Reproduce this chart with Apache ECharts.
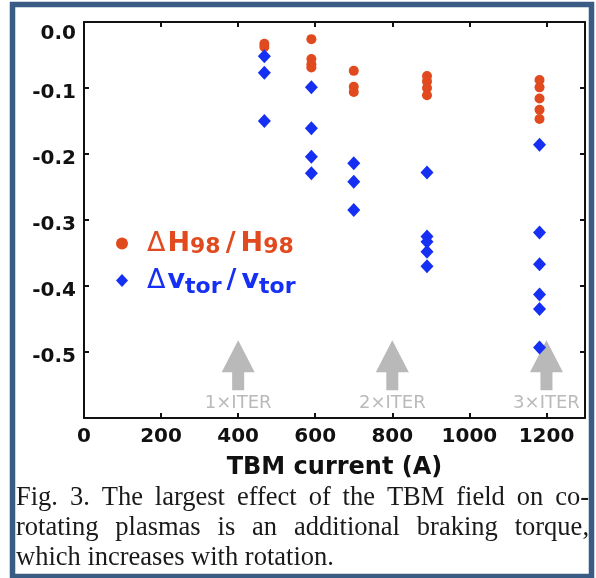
<!DOCTYPE html>
<html><head><meta charset="utf-8">
<script src="https://cdn.jsdelivr.net/npm/echarts@6/dist/echarts.min.js"></script>
<style>html,body{margin:0;padding:0;background:#fff}#c{width:596px;height:578px}</style>
</head><body><div id="c"></div><script>
// ---- data ----
const hCurrent = [468,468, 590,590,590,590, 700,700,700, 890,890,890,890, 1182,1182,1182,1182,1182];
const hValue   = [-0.033,-0.038, -0.026,-0.056,-0.064,-0.069, -0.074,-0.098,-0.106, -0.082,-0.090,-0.100,-0.111, -0.088,-0.099,-0.116,-0.133,-0.147];
const vCurrent = [468,468,468, 590,590,590,590, 700,700,700, 890,890,890,890,890, 1182,1182,1182,1182,1182,1182];
const vValue   = [-0.052,-0.077,-0.150, -0.099,-0.161,-0.204,-0.229, -0.214,-0.242,-0.285, -0.228,-0.325,-0.333,-0.348,-0.370, -0.186,-0.319,-0.367,-0.413,-0.435,-0.493];
const iterCurrent = [400, 800, 1200];
const iterLabel = ['1×ITER', '2×ITER', '3×ITER'];
const seriesNames = ['ΔH98/H98', 'Δvtor/vtor'];
const xTickValues = [0, 200, 400, 600, 800, 1000, 1200];
const yTickValues = [0.0, -0.1, -0.2, -0.3, -0.4, -0.5];
const xTitle = 'TBM current (A)';
const captionLines = [
  'Fig. 3. The largest effect of the TBM field on co-',
  'rotating plasmas is an additional braking torque,',
  'which increases with rotation.'
];

// ---- styling ----
const RED = '#e04a1e', BLUE = '#1530f2', GREY = '#b9b9b9';
const AX_FONT = 'DejaVu Sans';
const ARROW_Y = -0.52;
const arrowPath = 'path://M16.5,0 L33,32 L22.5,32 L22.5,50 L10.5,50 L10.5,32 L0,32 Z';

const chart = echarts.init(document.getElementById('c'), null, {renderer: 'canvas'});

// caption words, justified
const capFont = '26.5px "Liberation Serif"';
const cv = document.createElement('canvas').getContext('2d');
cv.font = capFont;
const capLeft = 16, capRight = 589, capY0 = 498, capDy = 30;
const capEls = [];
captionLines.forEach((line, li) => {
  const words = line.split(' ');
  const widths = words.map(w => cv.measureText(w).width);
  const total = widths.reduce((a, b) => a + b, 0);
  const justify = li < captionLines.length - 1;
  const gap = justify ? (capRight - capLeft - total) / (words.length - 1) : cv.measureText(' ').width;
  let x = capLeft;
  words.forEach((w, wi) => {
    capEls.push({
      type: 'text', x: x, y: capY0 + li * capDy, z: 10,
      style: {text: w, font: capFont, fill: '#1a1a1a', align: 'left', verticalAlign: 'middle'}
    });
    x += widths[wi] + gap;
  });
});

const richBase = (color, subPad) => ({
  d: {fontFamily: AX_FONT, fontSize: 27, fontWeight: 'normal', color: color, padding: [0, 2, 0, 14], lineHeight: 32},
  m: {fontFamily: AX_FONT, fontSize: 27, fontWeight: 'bold', color: color, lineHeight: 32},
  k: {fontFamily: AX_FONT, fontSize: 27, fontWeight: 'bold', color: color, lineHeight: 32, padding: [0, 5, 0, 5]},
  s: {fontFamily: AX_FONT, fontSize: 22, fontWeight: 'bold', color: color, padding: [subPad, 0, 0, 0]}
});
const rr = richBase(RED, 7), rb = richBase(BLUE, 13);

const yLabRich = {
  t: {fontFamily: AX_FONT, fontSize: 20, fontWeight: 'bold', color: '#111', padding: [24, 0, 0, 0]},
  n: {fontFamily: AX_FONT, fontSize: 20, fontWeight: 'bold', color: '#111', padding: [10, 0, 0, 0]}
};

const option = {
  backgroundColor: '#fff',
  animation: false,
  grid: {left: 84, right: 11, top: 22, bottom: 160, containLabel: false},
  xAxis: [{
    type: 'value', min: 0, max: 1300, interval: 200, position: 'bottom',
    name: xTitle, nameLocation: 'middle', nameGap: 38,
    nameTextStyle: {fontFamily: AX_FONT, fontSize: 24, fontWeight: 'bold', color: '#111'},
    axisLine: {show: true, onZero: false, lineStyle: {color: '#111', width: 2}},
    axisTick: {show: true, inside: true, length: 5, lineStyle: {color: '#111', width: 2}},
    axisLabel: {show: true, showMaxLabel: false, margin: 9, fontFamily: AX_FONT, fontSize: 20, fontWeight: 'bold', color: '#111',
      formatter: v => xTickValues.indexOf(v) >= 0 ? String(v) : ''},
    splitLine: {show: false}
  }, {
    type: 'value', min: 0, max: 1300, interval: 200, position: 'top',
    axisLine: {show: true, onZero: false, lineStyle: {color: '#111', width: 2}},
    axisTick: {show: true, inside: true, length: 5, lineStyle: {color: '#111', width: 2}},
    axisLabel: {show: false}, splitLine: {show: false}
  }],
  yAxis: [{
    type: 'value', min: -0.6, max: 0, interval: 0.1, position: 'left',
    axisLine: {show: true, onZero: false, lineStyle: {color: '#111', width: 2}},
    axisTick: {show: true, inside: true, length: 5, lineStyle: {color: '#111', width: 2}},
    axisLabel: {show: true, showMinLabel: false, margin: 8, fontFamily: AX_FONT, fontSize: 20, fontWeight: 'bold', color: '#111',
      rich: yLabRich,
      formatter: v => {
        const r = Math.round(v * 10) / 10;
        if (!yTickValues.some(t => Math.abs(t - r) < 1e-9)) return '';
        return r === 0 ? '{t|0.0}' : '{n|' + r.toFixed(1) + '}';
      }},
    splitLine: {show: false}
  }, {
    type: 'value', min: -0.6, max: 0, interval: 0.1, position: 'right',
    axisLine: {show: true, onZero: false, lineStyle: {color: '#111', width: 2}},
    axisTick: {show: true, inside: true, length: 5, lineStyle: {color: '#111', width: 2}},
    axisLabel: {show: false}, splitLine: {show: false}
  }],
  legend: {
    orient: 'vertical', left: 116, top: 230, padding: 0, itemGap: 9,
    itemWidth: 12, itemHeight: 13, selectedMode: false,
    data: [{name: seriesNames[0], icon: 'circle'}, {name: seriesNames[1], icon: 'diamond'}],
    formatter: name => name === seriesNames[0]
      ? '{rd|Δ}{rm|H}{rs|98}{rk|/}{rm|H}{rs|98}'
      : '{bd|Δ}{bm|v}{bs|tor}{bk|/}{bm|v}{bs|tor}',
    textStyle: {rich: {
      rd: rr.d, rm: rr.m, rk: rr.k, rs: rr.s,
      bd: rb.d, bm: rb.m, bk: rb.k, bs: rb.s
    }}
  },
  series: [{
    name: 'ITER', type: 'scatter', z: 1, silent: true,
    symbol: arrowPath, symbolSize: [33, 50],
    itemStyle: {color: GREY, opacity: 1},
    data: iterCurrent.map(c => [c, ARROW_Y]),
    label: {show: true, position: 'bottom', distance: 4, fontFamily: AX_FONT, fontSize: 18,
      color: '#bababa', formatter: p => iterLabel[p.dataIndex]}
  }, {
    name: seriesNames[0], type: 'scatter', z: 3,
    symbol: 'circle', symbolSize: 10,
    itemStyle: {color: RED, opacity: 1},
    data: hCurrent.map((c, i) => [c, hValue[i]])
  }, {
    name: seriesNames[1], type: 'scatter', z: 4,
    symbol: 'diamond', symbolSize: [13, 14],
    itemStyle: {color: BLUE, opacity: 1},
    data: vCurrent.map((c, i) => [c, vValue[i]])
  }],
  graphic: [{
    type: 'rect', z: 20, silent: true,
    shape: {x: 12.5, y: 4.5, width: 579, height: 572},
    style: {fill: 'none', stroke: '#3a5c84', lineWidth: 5.5}
  }].concat(capEls)
};
chart.setOption(option);
</script></body></html>
